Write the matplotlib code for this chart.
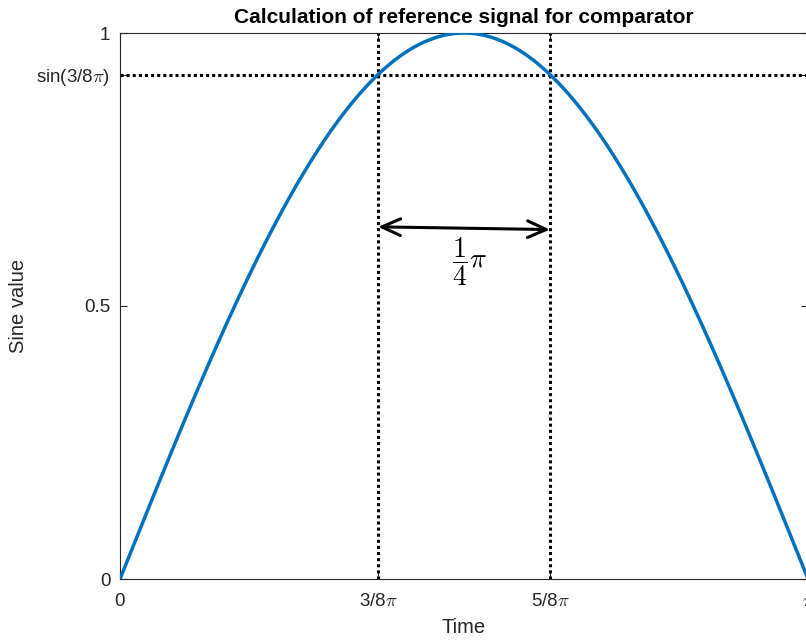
import numpy as np
import matplotlib
matplotlib.use('Agg')
import matplotlib.pyplot as plt

plt.rcParams['font.family'] = ['Liberation Sans', 'DejaVu Sans']
plt.rcParams['mathtext.fontset'] = 'cm'

# data
x_ticks = [0, 3 / 8 * np.pi, 5 / 8 * np.pi, np.pi]
x_ticklabels = ['0', r'3/8$\pi$', r'5/8$\pi$', r'$\pi$']
y_ticks = [0, 0.5, np.sin(3 / 8 * np.pi), 1]
y_ticklabels = ['0', '0.5', r'sin(3/8$\pi$)', '1']
t = np.linspace(0, np.pi, 400)
s = np.sin(t)
ref_level = np.sin(3 / 8 * np.pi)
cross_x = [3 / 8 * np.pi, 5 / 8 * np.pi]
arrow_y = [0.645, 0.64]

fig = plt.figure(figsize=(8.06, 6.41), dpi=100)
ax = fig.add_axes([120 / 806, 62 / 641, 688 / 806, 546 / 641])

ax.plot(t, s, color='#0072BD', lw=2.5, zorder=3)
ax.plot([0, np.pi], [ref_level, ref_level], color='k', ls=(0, (1, 1)), lw=2.2)
for xc in cross_x:
    ax.plot([xc, xc], [0, 1], color='k', ls=(0, (1, 1)), lw=2.2)

ax.annotate('', xy=(cross_x[0], arrow_y[0]), xytext=(cross_x[1], arrow_y[1]),
            arrowprops=dict(arrowstyle='<->,head_length=0.9,head_width=0.4',
                            color='k', lw=2.2, mutation_scale=15,
                            shrinkA=0, shrinkB=0))
ax.text(1.598, 0.582, r'$\dfrac{1}{4}\pi$', fontsize=20,
        ha='center', va='center')

ax.set_xlim(0, np.pi)
ax.set_ylim(0, 1)
ax.set_xticks(x_ticks)
ax.set_xticklabels(x_ticklabels)
ax.set_yticks(y_ticks)
ax.set_yticklabels(y_ticklabels)
ax.tick_params(direction='in', top=True, right=True, labelsize=13.5,
               colors='#262626', length=5, width=0.8)
ax.tick_params(axis='x', pad=10)
ax.tick_params(axis='y', pad=7)
for sp in ax.spines.values():
    sp.set_color('#262626')
    sp.set_linewidth(0.8)

ax.set_title('Calculation of reference signal for comparator',
             fontsize=15, fontweight='bold', pad=7)
ax.set_xlabel('Time', fontsize=14.5, color='#262626', labelpad=6)
ax.set_ylabel('Sine value', fontsize=14.5, color='#262626', labelpad=6)

fig.savefig('out.png', dpi=100)
